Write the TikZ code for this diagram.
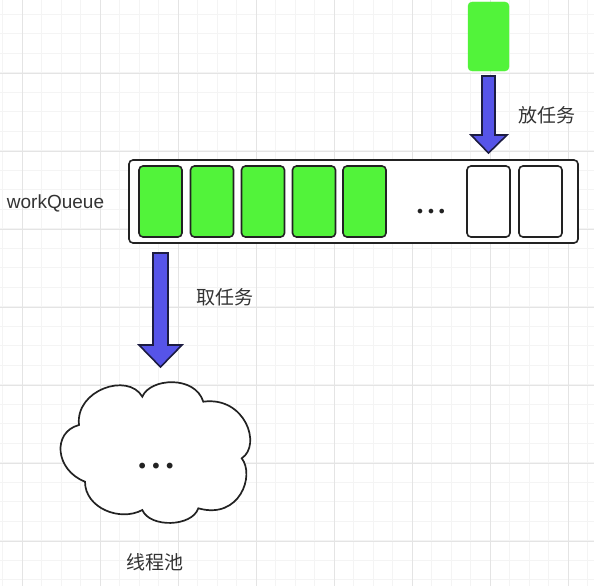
\documentclass[tikz,border=0pt]{standalone}
\usepackage{fontspec}
\setmainfont{Liberation Sans}
\newfontfamily\cjk{Noto Sans CJK SC}
\newfontfamily\dejavu{DejaVu Sans}
\definecolor{taskgreen}{RGB}{82,243,58}
\definecolor{boxline}{RGB}{34,34,34}
\definecolor{arrowblue}{RGB}{86,84,232}
\definecolor{arrowline}{RGB}{28,28,66}
\definecolor{labelgrey}{RGB}{51,51,51}
\definecolor{gridminor}{RGB}{244,244,244}
\definecolor{gridmajor}{RGB}{228,228,228}
\begin{document}
\begin{tikzpicture}[x=1pt,y=-1pt,
  slot/.style={draw=boxline, line width=1.6pt, rounded corners=4pt, minimum width=43pt, minimum height=71pt, inner sep=0pt},
  full/.style={slot, fill=taskgreen},
  emptyslot/.style={slot, fill=white},
  lbl/.style={text=labelgrey, font=\cjk\fontsize{19}{19}\selectfont, inner sep=0pt},
  blockarrow/.style={draw=arrowline, fill=arrowblue, line width=1.6pt, line join=miter},
  gridmin/.style={draw=gridminor, line width=0.8pt},
  gridmaj/.style={draw=gridmajor, line width=1pt}]
\useasboundingbox (0,0) rectangle (604,586);
\fill[white] (0,0) rectangle (604,586);
% grid
\begin{scope}
\clip (0,0) rectangle (594,586);
\foreach \i in {0,...,31} {
  \draw[gridmin] ({2.5+\i*19.5},0) -- ++(0,586);
  \draw[gridmin] (0,{-5.5+\i*19.5}) -- ++(594,0);
}
\foreach \i in {0,...,7} {
  \draw[gridmaj] ({22+\i*78},0) -- ++(0,586);
  \draw[gridmaj] (0,{-5+\i*78}) -- ++(594,0);
}
\end{scope}
% queue
\node[draw=boxline, line width=1.6pt, rounded corners=4pt, fill=white, minimum width=449pt, minimum height=83pt, inner sep=0pt] (queue) at (353.5,201.5) {};
\node[full] (s1) at (160.5,201.5) {};
\node[full] (s2) at (212,201.5) {};
\node[full] (s3) at (263,201.5) {};
\node[full] (s4) at (314,201.5) {};
\node[full] (s5) at (364.5,201.5) {};
\node[emptyslot] (e1) at (488.5,201.5) {};
\node[emptyslot] (e2) at (540.5,201.5) {};
\node[text=boxline, inner sep=0pt] (qdots) at (431,213) {\dejavu\fontsize{16}{16}\selectfont •\hspace{1.5pt}•\hspace{1.5pt}•};
\node[text=labelgrey, inner sep=0pt, font=\fontsize{19}{19}\selectfont] (wq) at (55.5,203) {workQueue};
% new task
\node[draw=taskgreen, fill=taskgreen, rounded corners=4pt, minimum width=41pt, minimum height=69pt, inner sep=0pt] (newtask) at (488.5,36.5) {};
% put arrow
\draw[blockarrow] (482,76) -- (495,76) -- (495,135) -- (507,135) -- (488.5,153) -- (471,135) -- (482,135) -- cycle;
\node[lbl] (put) at (547,115) {放任务};
% take arrow
\draw[blockarrow] (153,253) -- (168,253) -- (168,345) -- (182,345) -- (160.5,367) -- (139,345) -- (153,345) -- cycle;
\node[lbl] (take) at (225,297) {取任务};
% cloud
\draw[draw=boxline, line width=1.7pt, fill=white]
  (79,425) .. controls (75,390) and (128,372) .. (142.3,396.7)
  .. controls (150,378) and (195,375) .. (203.3,401.7)
  .. controls (245,396) and (262,445) .. (241.7,458.3)
  .. controls (255,475) and (240,520) .. (198.3,508.3)
  .. controls (192,527) and (150,528) .. (142.3,510)
  .. controls (120,522) and (85,508) .. (85,481.7)
  .. controls (55,470) and (52,432) .. cycle;
\node[text=boxline, inner sep=0pt] (cdots) at (156,468) {\dejavu\fontsize{20}{20}\selectfont •\hspace{2pt}•\hspace{2pt}•};
\node[lbl] (pool) at (155,562) {线程池};
\end{tikzpicture}
\end{document}
